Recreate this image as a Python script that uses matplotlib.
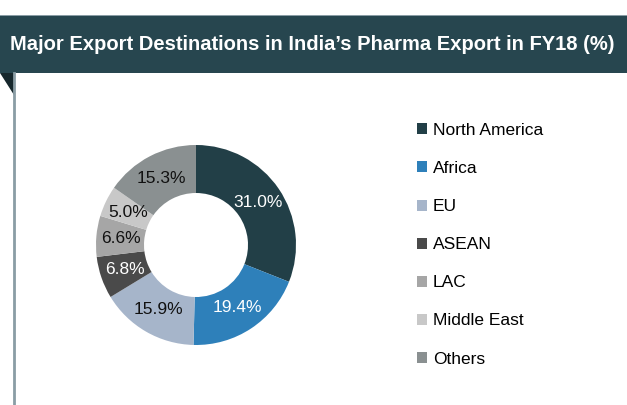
import matplotlib.pyplot as plt
from matplotlib.patches import Rectangle, Polygon
from matplotlib.lines import Line2D
import numpy as np

regions = ["North America", "Africa", "EU", "ASEAN", "LAC", "Middle East", "Others"]
shares = [31.0, 19.4, 15.9, 6.8, 6.6, 5.0, 15.3]
colors = ["#223f47", "#2e80ba", "#a6b5ca", "#4a4a4a", "#a6a6a6", "#c8c8c8", "#8a9091"]
label_colors = ["white", "white", "#111111", "white", "#111111", "#111111", "#111111"]

W, H = 627, 405
fig = plt.figure(figsize=(W / 100, H / 100), dpi=100)

# title banner
fig.patches.append(Rectangle((0, 1 - 73 / H), 1, 58 / H, transform=fig.transFigure,
                             facecolor="#27464f", edgecolor="none"))
fig.patches.append(Rectangle((0, 1 - 16 / H), 1, 1.5 / H, transform=fig.transFigure,
                             facecolor="#8a9da5", edgecolor="none"))
fig.patches.append(Polygon([(0, 1 - 73 / H), (13.5 / W, 1 - 73 / H), (13.5 / W, 1 - 95 / H)],
                           closed=True, transform=fig.transFigure,
                           facecolor="#16272c", edgecolor="none"))
fig.lines.append(Line2D([13.5 / W, 13.5 / W], [0, 1 - 73 / H], transform=fig.transFigure,
                        color="#8a9da5", lw=2))
fig.text(312 / W, 1 - 45 / H, "Major Export Destinations in India\u2019s Pharma Export in FY18 (%)",
         ha="center", va="center", color="white", fontsize=14.5, fontweight="bold",
         family="Liberation Sans")

# donut
ax = fig.add_axes([96 / W, (H - 345) / H, 200 / W, 200 / H])
wedges, _ = ax.pie(shares, colors=colors, startangle=90, counterclock=False,
                   radius=1.0, wedgeprops=dict(width=0.48, edgecolor="none"))
for w, v, c in zip(wedges, shares, label_colors):
    mid = np.deg2rad((w.theta1 + w.theta2) / 2)
    ax.text(0.75 * np.cos(mid), 0.75 * np.sin(mid), f"{v:.1f}%", ha="center", va="center",
            color=c, fontsize=12.5, family="Liberation Sans")
ax.set_xlim(-1, 1)
ax.set_ylim(-1, 1)
ax.set_aspect("equal")
ax.axis("off")

leg = fig.legend(wedges, regions, loc="upper left", bbox_to_anchor=(417 / W, 1 - 123 / H),
                 frameon=False, handlelength=0.6, handleheight=0.6,
                 handletextpad=0.3, labelspacing=1.33, borderpad=0, borderaxespad=0,
                 prop={"family": "Liberation Sans", "size": 12.5})

fig.savefig("out.png", dpi=100)
